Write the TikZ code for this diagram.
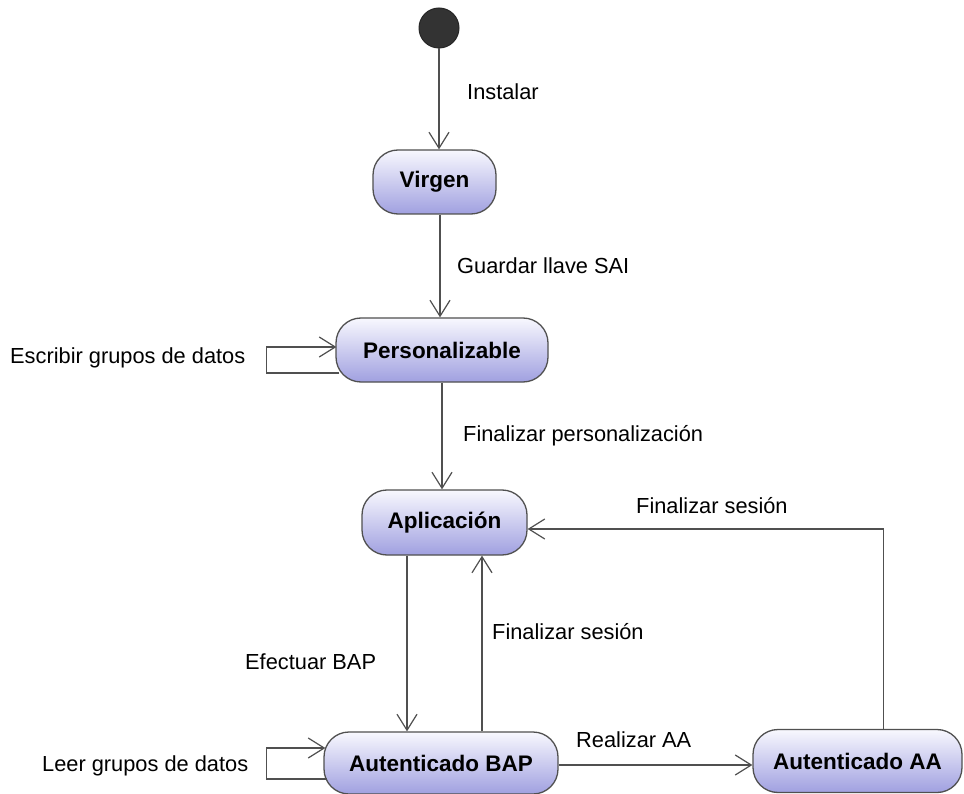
\documentclass[tikz,border=0pt]{standalone}
\usepackage{fontspec}
\setmainfont{Liberation Sans}
\usetikzlibrary{arrows.meta}
\definecolor{edgegray}{HTML}{505050}
\definecolor{statetop}{HTML}{F8F8FE}
\definecolor{statebot}{HTML}{A0A0E0}
\tikzset{
  statebox/.style={draw=edgegray, line width=1.3pt, rounded corners=25pt,
    top color=statetop, bottom color=statebot, inner sep=0pt,
    font=\fontsize{22.5}{26}\selectfont\bfseries},
  initstate/.style={circle, draw=black!85, fill=black!80, line width=1pt,
    minimum size=40pt, inner sep=0pt},
  trans/.style={draw=edgegray, line width=1.3pt,
    -{Straight Barb[length=16pt,width=20pt,line width=1.2pt]}},
  lbl/.style={anchor=west, inner sep=0pt, font=\fontsize{21.8}{25}\selectfont}
}
\begin{document}
\begin{tikzpicture}[x=1pt, y=-1pt]
  \useasboundingbox (0,0) rectangle (964,794);
  \fill[white] (0,0) rectangle (964,794);

  % states
  \node[initstate] (init) at (439,28) {};
  \node[statebox, minimum width=123pt, minimum height=64pt] (virgen) at (434.5,182) {Virgen};
  \node[statebox, minimum width=212pt, minimum height=64pt] (pers) at (442,350) {Personalizable};
  \node[statebox, minimum width=165pt, minimum height=65pt] (apl) at (444.5,522.5) {Aplicación};
  \node[statebox, minimum width=234pt, minimum height=62pt] (bap) at (441,763) {Autenticado BAP};
  \node[statebox, minimum width=209pt, minimum height=63pt] (aa) at (857.5,761) {Autenticado AA};

  % transitions
  \draw[trans] (init.south) -- (init.south |- virgen.north);
  \draw[trans] ([xshift=5.5pt]virgen.south) -- ([xshift=5.5pt]virgen.south |- pers.north);
  \draw[trans] ([xshift=4pt,yshift=-23pt]pers.west) -- ++(-73,0) -- ++(0,-26)
               -- ([xshift=1pt,yshift=3pt]pers.west);
  \draw[trans] (pers.south) -- (pers.south |- apl.north);
  \draw[trans] ([xshift=-37.5pt]apl.south) -- ([xshift=-37.5pt]apl.south |- bap.north);
  \draw[trans] ([xshift=41pt]bap.north) -- ([xshift=41pt]bap.north |- apl.south);
  \draw[trans] ([xshift=4pt,yshift=-16pt]bap.west) -- ++(-61,0) -- ++(0,-31)
               -- ([xshift=2pt,yshift=15pt]bap.west);
  \draw[trans] ([yshift=-2pt]bap.east) -- ([yshift=-2pt]bap.east -| aa.west);
  \draw[trans] ([xshift=26pt]aa.north) |- ([yshift=-6.5pt]apl.east);

  % transition labels
  \node[lbl] (tInstalar) at (467,92) {Instalar};
  \node[lbl] (tGuardar) at (457,266) {Guardar llave SAI};
  \node[lbl] (tEscribir) at (10,358) {Escribir grupos de datos};
  \node[lbl] (tFinPers) at (463,436) {Finalizar personalización};
  \node[lbl] (tFinSesA) at (636,506) {Finalizar sesión};
  \node[lbl] (tFinSesB) at (492,632) {Finalizar sesión};
  \node[lbl] (tEfectuar) at (245,662) {Efectuar BAP};
  \node[lbl] (tRealizar) at (576,740) {Realizar AA};
  \node[lbl] (tLeer) at (42,766) {Leer grupos de datos};
\end{tikzpicture}
\end{document}
